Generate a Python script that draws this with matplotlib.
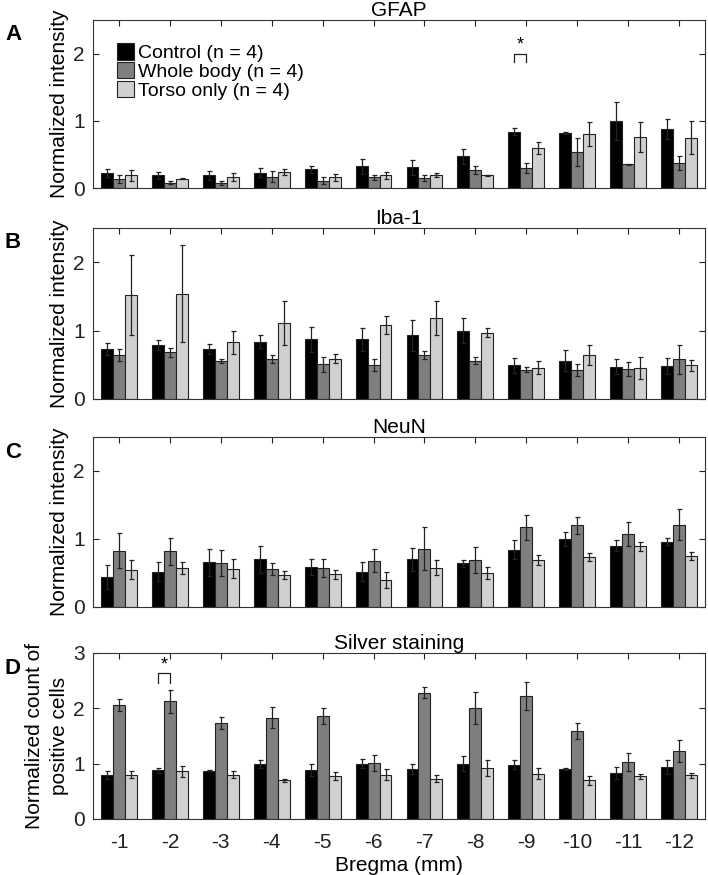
"""Grouped bar charts of normalized staining per Bregma position."""
import matplotlib
matplotlib.use("Agg")
import matplotlib.pyplot as plt
import numpy as np

plt.rcParams["font.family"] = ["Liberation Sans", "DejaVu Sans"]

bregma = [-1, -2, -3, -4, -5, -6, -7, -8, -9, -10, -11, -12]
groups = ["Control (n = 4)", "Whole body (n = 4)", "Torso only (n = 4)"]
colors = ["#000000", "#7f7f7f", "#d0d0d0"]

# GFAP
gfap_ctrl = [0.22, 0.19, 0.19, 0.23, 0.28, 0.32, 0.31, 0.47, 0.84, 0.82, 1.00, 0.88]
gfap_ctrl_err = [0.06, 0.05, 0.07, 0.07, 0.05, 0.11, 0.11, 0.11, 0.05, 0.01, 0.28, 0.15]
gfap_whole = [0.14, 0.08, 0.08, 0.17, 0.11, 0.16, 0.15, 0.27, 0.30, 0.53, 0.35, 0.37]
gfap_whole_err = [0.06, 0.02, 0.03, 0.08, 0.05, 0.04, 0.04, 0.06, 0.07, 0.21, 0.01, 0.10]
gfap_torso = [0.19, 0.14, 0.17, 0.24, 0.16, 0.19, 0.19, 0.19, 0.59, 0.80, 0.76, 0.75]
gfap_torso_err = [0.08, 0.01, 0.06, 0.05, 0.05, 0.05, 0.03, 0.01, 0.09, 0.18, 0.22, 0.25]

# Iba-1
iba_ctrl = [0.73, 0.79, 0.73, 0.84, 0.87, 0.87, 0.93, 1.00, 0.49, 0.56, 0.47, 0.48]
iba_ctrl_err = [0.09, 0.07, 0.07, 0.10, 0.18, 0.17, 0.23, 0.18, 0.11, 0.15, 0.11, 0.12]
iba_whole = [0.64, 0.68, 0.56, 0.58, 0.51, 0.50, 0.64, 0.56, 0.43, 0.42, 0.44, 0.58]
iba_whole_err = [0.09, 0.06, 0.03, 0.06, 0.11, 0.09, 0.06, 0.05, 0.04, 0.09, 0.10, 0.21]
iba_torso = [1.52, 1.54, 0.83, 1.11, 0.59, 1.08, 1.18, 0.97, 0.46, 0.64, 0.45, 0.49]
iba_torso_err = [0.58, 0.71, 0.17, 0.32, 0.07, 0.13, 0.25, 0.07, 0.10, 0.15, 0.16, 0.08]

# NeuN
neun_ctrl = [0.44, 0.52, 0.66, 0.70, 0.59, 0.52, 0.70, 0.64, 0.84, 1.00, 0.90, 0.96]
neun_ctrl_err = [0.18, 0.14, 0.20, 0.20, 0.12, 0.14, 0.17, 0.05, 0.14, 0.11, 0.08, 0.05]
neun_whole = [0.83, 0.82, 0.65, 0.56, 0.57, 0.68, 0.86, 0.69, 1.17, 1.20, 1.07, 1.21]
neun_whole_err = [0.26, 0.20, 0.19, 0.09, 0.13, 0.17, 0.31, 0.19, 0.18, 0.13, 0.18, 0.23]
neun_torso = [0.55, 0.57, 0.56, 0.47, 0.48, 0.40, 0.58, 0.50, 0.69, 0.73, 0.89, 0.75]
neun_torso_err = [0.14, 0.09, 0.14, 0.06, 0.07, 0.12, 0.11, 0.09, 0.07, 0.06, 0.06, 0.06]

# Silver staining
silver_ctrl = [0.80, 0.88, 0.87, 0.99, 0.89, 1.00, 0.90, 1.00, 0.98, 0.90, 0.83, 0.94]
silver_ctrl_err = [0.07, 0.05, 0.01, 0.07, 0.11, 0.08, 0.09, 0.13, 0.08, 0.02, 0.11, 0.13]
silver_whole = [2.06, 2.13, 1.73, 1.83, 1.86, 1.01, 2.28, 2.01, 2.22, 1.59, 1.03, 1.23]
silver_whole_err = [0.10, 0.21, 0.11, 0.19, 0.14, 0.15, 0.10, 0.29, 0.25, 0.14, 0.17, 0.20]
silver_torso = [0.80, 0.86, 0.80, 0.70, 0.78, 0.80, 0.73, 0.92, 0.82, 0.70, 0.77, 0.79]
silver_torso_err = [0.06, 0.10, 0.06, 0.03, 0.07, 0.10, 0.07, 0.15, 0.10, 0.08, 0.05, 0.04]

W, H = 708, 875
fig = plt.figure(figsize=(W / 100, H / 100), dpi=100)


def add_axes(top, bottom, left=93, right=705):
    return fig.add_axes([left / W, 1 - bottom / H, (right - left) / W, (bottom - top) / H])


panels = [
    ("A", "GFAP", (20, 188), 2.5, [0, 1, 2], "Normalized intensity",
     [(gfap_ctrl, gfap_ctrl_err), (gfap_whole, gfap_whole_err), (gfap_torso, gfap_torso_err)]),
    ("B", "Iba-1", (228, 399), 2.5, [0, 1, 2], "Normalized intensity",
     [(iba_ctrl, iba_ctrl_err), (iba_whole, iba_whole_err), (iba_torso, iba_torso_err)]),
    ("C", "NeuN", (437, 607), 2.5, [0, 1, 2], "Normalized intensity",
     [(neun_ctrl, neun_ctrl_err), (neun_whole, neun_whole_err), (neun_torso, neun_torso_err)]),
    ("D", "Silver staining", (653, 819), 3, [0, 1, 2, 3], "Normalized count of\npositive cells",
     [(silver_ctrl, silver_ctrl_err), (silver_whole, silver_whole_err), (silver_torso, silver_torso_err)]),
]

x = np.arange(1, len(bregma) + 1)
bw = 0.235
axes = []
for letter, title, (top, bottom), ymax, yticks, ylabel, series in panels:
    ax = add_axes(top, bottom)
    axes.append(ax)
    for i, ((vals, errs), col) in enumerate(zip(series, colors)):
        ax.bar(x + (i - 1) * bw, vals, bw, color=col, edgecolor="#222222",
               linewidth=0.8, label=groups[i], zorder=2)
        ax.errorbar(x + (i - 1) * bw, vals, yerr=errs, fmt="none",
                    ecolor="#222222", elinewidth=0.9, capsize=1.8,
                    capthick=0.9, zorder=3)
    ax.set_xlim(0.49, 12.51)
    ax.set_ylim(0, ymax)
    ax.set_yticks(yticks)
    ax.set_xticks(x)
    ax.tick_params(direction="in", top=True, right=True, length=4,
                   width=0.8, labelsize=15, colors="#222222", pad=6)
    ax.tick_params(axis="x", labelbottom=False)
    for sp in ax.spines.values():
        sp.set_linewidth(0.8)
        sp.set_color("#333333")
    ax.set_title(title, fontsize=15, pad=3)
    ax.set_ylabel(ylabel, fontsize=15, labelpad=3, linespacing=1.4)
    fig.text(5 / W, 1 - (top + 15) / H, letter, fontsize=16, fontweight="bold",
             va="center", ha="left")

# x tick labels only on the bottom panel
axes[-1].tick_params(axis="x", labelbottom=True, pad=10)
axes[-1].set_xticklabels([str(b) for b in bregma])
axes[-1].set_xlabel("Bregma (mm)", fontsize=15, labelpad=3)

# legend in panel A
axes[0].legend(loc="upper left", bbox_to_anchor=(0.02, 0.93), frameon=False,
               fontsize=14, handlelength=0.9, handleheight=0.9,
               handletextpad=0.2, labelspacing=0.0, borderaxespad=0.2)


def bracket(ax, x0, x1, y, leg):
    ax.plot([x0, x0, x1, x1], [y - leg, y, y, y - leg], color="#222222",
            linewidth=0.9, zorder=4)
    ax.text((x0 + x1) / 2, y, "*", ha="center", va="bottom", fontsize=13)


bracket(axes[0], 9 - bw, 9, 2.0, 0.13)
bracket(axes[3], 2 - bw, 2, 2.63, 0.18)

fig.savefig("out.png", dpi=100)
